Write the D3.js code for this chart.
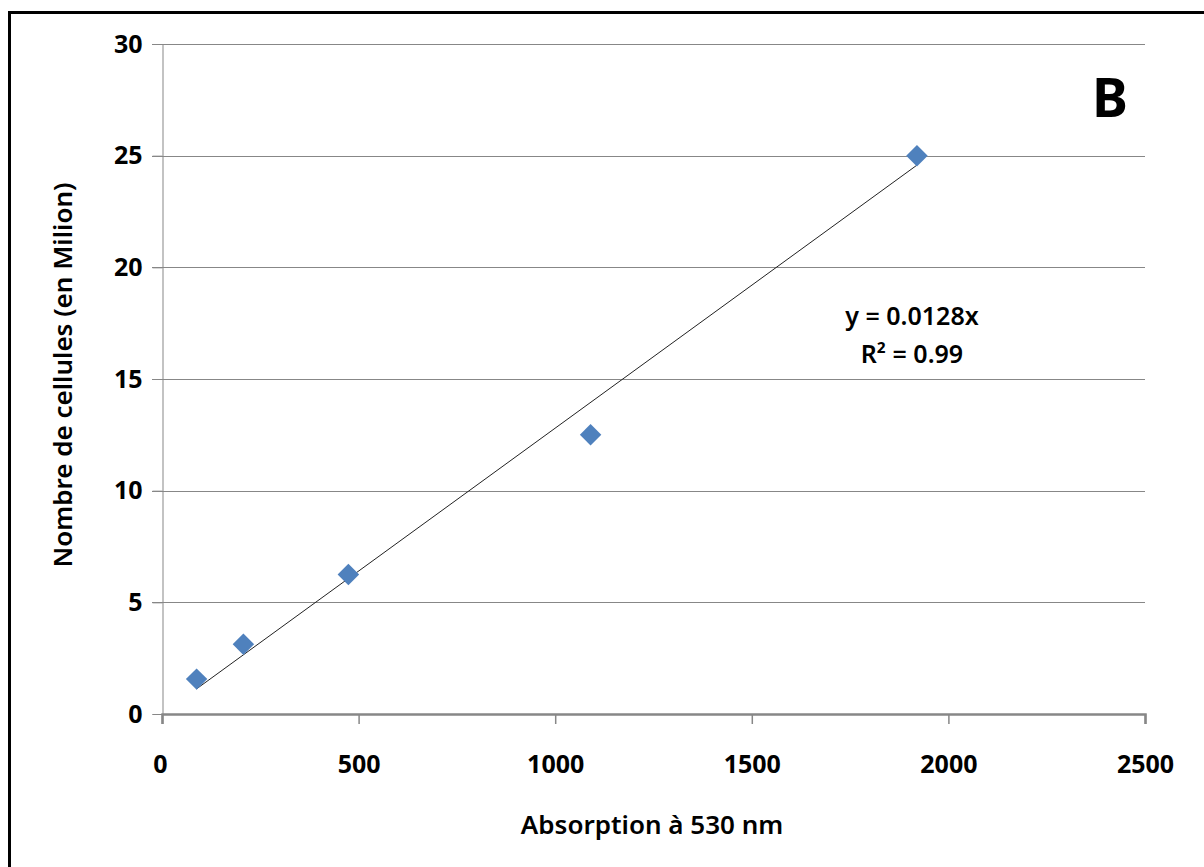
<!DOCTYPE html>
<html>
<head>
<meta charset="utf-8">
<script src="https://cdn.jsdelivr.net/npm/d3@7"></script>
<style>
  body { margin: 0; background: #fff; }
  svg { display: block; font-family: "Noto Sans", "Open Sans", sans-serif; }
</style>
</head>
<body>
<div id="chart"></div>
<script>
// data
const absorption = [88, 207, 474, 1090, 1920];
const cells = [1.5625, 3.125, 6.25, 12.5, 25];
const xTicks = [0, 500, 1000, 1500, 2000, 2500];
const yTicks = [0, 5, 10, 15, 20, 25, 30];
const slope = 0.0128;
const equationLines = ["y = 0.0128x", "R² = 0.99"];

const width = 1204;
const height = 867;
const margin = { left: 162, right: 59, top: 44, bottom: 153 };
const font = '"Noto Sans", "Open Sans", sans-serif';

const svg = d3.select('#chart').append('svg')
    .attr('width', width)
    .attr('height', height);

// outer frame (right/bottom edges fall outside the picture)
svg.append('rect')
    .attr('x', 9.5).attr('y', 12.5)
    .attr('width', 1300).attr('height', 1000)
    .attr('fill', 'none')
    .attr('stroke', '#000')
    .attr('stroke-width', 3);

const x = d3.scaleLinear()
    .domain([0, 2500])
    .range([margin.left, width - margin.right]);

const y = d3.scaleLinear()
    .domain([0, 30])
    .range([height - margin.bottom, margin.top]);

// horizontal gridlines
svg.append('g')
    .selectAll('line')
    .data(yTicks.filter(d => d > 0))
    .enter().append('line')
    .attr('x1', x(0) - 10).attr('x2', x(2500))
    .attr('y1', d => Math.round(y(d)) + 0.5)
    .attr('y2', d => Math.round(y(d)) + 0.5)
    .attr('stroke', '#878787')
    .attr('stroke-width', 1);

// y axis
const yAxis = svg.append('g')
    .attr('transform', `translate(${Math.round(x(0)) + 0.5},0)`)
    .call(d3.axisLeft(y).tickValues(yTicks).tickFormat(d3.format('d')).tickSize(10).tickPadding(10))
    .attr('font-family', font);
yAxis.select('.domain').attr('stroke', '#878787');
yAxis.selectAll('.tick line').attr('stroke', '#878787');
yAxis.selectAll('.tick text')
    .attr('font-size', 25)
    .attr('font-weight', 'bold')
    .attr('fill', '#000');

// x axis
const xAxis = svg.append('g')
    .attr('transform', `translate(0,${Math.round(y(0))})`)
    .call(d3.axisBottom(x).tickValues(xTicks).tickFormat(d3.format('d')).tickSize(10).tickPadding(31))
    .attr('font-family', font);
xAxis.select('.domain').attr('stroke', '#878787').attr('stroke-width', 2.5);
xAxis.selectAll('.tick line').attr('stroke', '#878787').attr('stroke-width', 1.5);
xAxis.selectAll('.tick text')
    .attr('font-size', 25)
    .attr('font-weight', 'bold')
    .attr('fill', '#000');
xAxis.selectAll('.tick').filter(d => d === 0).select('text').attr('dx', -2);

// axis titles
svg.append('text')
    .attr('x', 652).attr('y', 834)
    .attr('text-anchor', 'middle')
    .attr('font-size', 26)
    .attr('font-weight', 600)
    .text('Absorption à 530 nm');

svg.append('text')
    .attr('transform', `translate(72,${(y(0) + y(30)) / 2 - 4}) rotate(-90)`)
    .attr('text-anchor', 'middle')
    .attr('font-size', 26)
    .attr('font-weight', 600)
    .text('Nombre de cellules (en Milion)');

// linear trendline through the origin
const xMin = d3.min(absorption);
const xMax = d3.max(absorption);
svg.append('line')
    .attr('x1', x(xMin)).attr('y1', y(slope * xMin))
    .attr('x2', x(xMax)).attr('y2', y(slope * xMax))
    .attr('stroke', '#222')
    .attr('stroke-width', 1);

// markers (diamonds)
const diamond = d3.symbol().type(d3.symbolSquare).size(230);
svg.append('g')
    .selectAll('path')
    .data(absorption.map((a, i) => ({ a, c: cells[i] })))
    .enter().append('path')
    .attr('d', diamond)
    .attr('transform', d => `translate(${x(d.a)},${y(d.c)}) rotate(45)`)
    .attr('fill', '#4f81bd');

// trendline label
svg.append('g')
    .selectAll('text')
    .data(equationLines)
    .enter().append('text')
    .attr('x', 912)
    .attr('y', (d, i) => 325 + i * 38)
    .attr('text-anchor', 'middle')
    .attr('font-size', 25)
    .attr('font-weight', 600)
    .text(d => d);

// panel letter
svg.append('text')
    .attr('x', 1110).attr('y', 117)
    .attr('text-anchor', 'middle')
    .attr('font-size', 54)
    .attr('font-weight', 'bold')
    .text('B');
</script>
</body>
</html>
